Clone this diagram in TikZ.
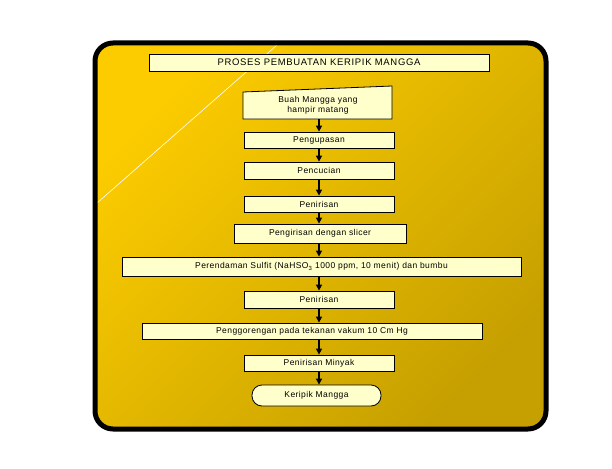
\documentclass[tikz,border=0pt]{standalone}
\usepackage{fontspec}
\setmainfont{Liberation Sans}
\newfontfamily\boxfont[LetterSpace=5]{Liberation Sans}
\newfontfamily\titlefont[LetterSpace=7]{Liberation Sans}
\usetikzlibrary{arrows.meta}
\definecolor{goldlight}{RGB}{252,204,0}
\definecolor{golddark}{RGB}{198,160,0}
\definecolor{boxfill}{RGB}{255,255,204}

\begin{document}
\begin{tikzpicture}[x=1pt, y=-1pt,
          box/.style={draw, fill=boxfill, line width=0.8pt, inner sep=0pt, minimum width=150pt, minimum height=16pt, align=center, font=\boxfont\fontsize{8.5}{10}\selectfont},
          arr/.style={-{Triangle[width=6pt, length=6pt]}, line width=1.6pt},
        ]
          \useasboundingbox (0,0) rectangle (612,468);
          % frame with gradient
          \shade[rounded corners=18pt, top color=goldlight, bottom color=golddark, shading angle=45] (95,43) rectangle (546,429);
          \draw[white, line width=0.6pt] (97,203) -- (277,45);
          \draw[line width=5pt, rounded corners=18pt] (95,43) rectangle (546,429);

          \node[box, minimum width=340pt, minimum height=17pt, font=\titlefont\fontsize{9.5}{11}\selectfont] (title) at (319,62.5) {PROSES PEMBUATAN KERIPIK MANGGA};

          % input box with slanted top
          \draw[fill=boxfill, line width=0.8pt] (243,119) -- (392,119) -- (392,86) -- (243,92) -- cycle;
          \node[box, draw=none, fill=none, minimum width=149pt, minimum height=27pt] (buah) at (318,105.5) {Buah Mangga yang\\hampir matang};

          \node[box] (kupas) at (319,140) {Pengupasan};
          \node[box, minimum height=17pt] (cuci) at (319,170.5) {Pencucian};
          \node[box] (tiris) at (319,204) {Penirisan};
          \node[box, minimum width=172pt, minimum height=19pt] (iris) at (320,233.5) {Pengirisan dengan slicer};
          \node[box, minimum width=399pt, minimum height=19pt] (rendam) at (321.5,266.5) {Perendaman Sulfit (NaHSO\textsubscript{3} 1000 ppm, 10 menit) dan bumbu};
          \node[box, minimum height=17pt] (tiris2) at (319,299.5) {Penirisan};
          \node[box, minimum width=340pt] (goreng) at (312,331) {Penggorengan pada tekanan vakum 10 Cm Hg};
          \node[box] (minyak) at (319,363) {Penirisan Minyak};
          \node[box, rounded corners=10pt, minimum width=129pt, minimum height=21pt] (keripik) at (316.5,395.5) {Keripik Mangga};

          \draw[arr] (buah.south -| kupas) -- (kupas.north);
          \draw[arr] (kupas.south) -- (cuci.north);
          \draw[arr] (cuci.south) -- (tiris.north);
          \draw[arr] (tiris.south) -- (iris.north -| tiris);
          \draw[arr] (iris.south -| tiris) -- (rendam.north -| tiris);
          \draw[arr] (rendam.south -| tiris2) -- (tiris2.north);
          \draw[arr] (tiris2.south) -- (goreng.north -| tiris2);
          \draw[arr] (goreng.south -| minyak) -- (minyak.north);
          \draw[arr] (minyak.south) -- (keripik.north -| minyak);
        \end{tikzpicture}
\end{document}
